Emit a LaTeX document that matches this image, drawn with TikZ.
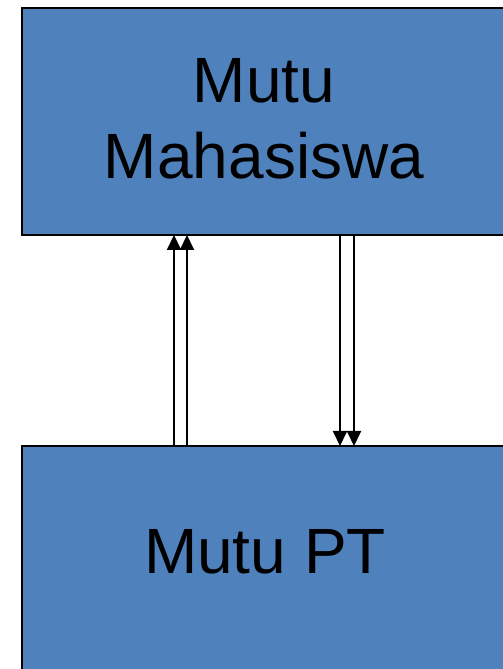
\documentclass[tikz,border=0pt]{standalone}
\usepackage{fontspec}
\setmainfont{Liberation Sans}
\usetikzlibrary{arrows.meta}
\definecolor{boxblue}{HTML}{4F81BD}
\tikzset{
  blockbox/.style={draw=black, line width=2.2pt, fill=boxblue, inner sep=0pt, outer sep=0pt, minimum width=484pt},
  bigtext/.style={font=\fontsize{64}{76}\selectfont, align=center, inner sep=0pt, text=black},
  arr/.style={line width=2pt, -{Triangle[length=15pt,width=14pt]}}
}
\begin{document}
\begin{tikzpicture}[x=1pt,y=1pt]
\useasboundingbox (0,0) rectangle (503,669);
\node[blockbox, minimum height=227pt] (mhs) at (264,547.5) {};
\node[blockbox, minimum height=233pt] (pt) at (264,106.5) {};
\node[bigtext] (mhsT) at (264,550) {Mutu\\Mahasiswa};
\node[bigtext, anchor=base] (ptT) at (265,95.7) {Mutu PT};
\draw[arr] (pt.north -| 174,0) -- (mhs.south -| 174,0);
\draw[arr] (pt.north -| 187,0) -- (mhs.south -| 187,0);
\draw[arr] (mhs.south -| 340,0) -- (pt.north -| 340,0);
\draw[arr] (mhs.south -| 354,0) -- (pt.north -| 354,0);
\end{tikzpicture}
\end{document}
